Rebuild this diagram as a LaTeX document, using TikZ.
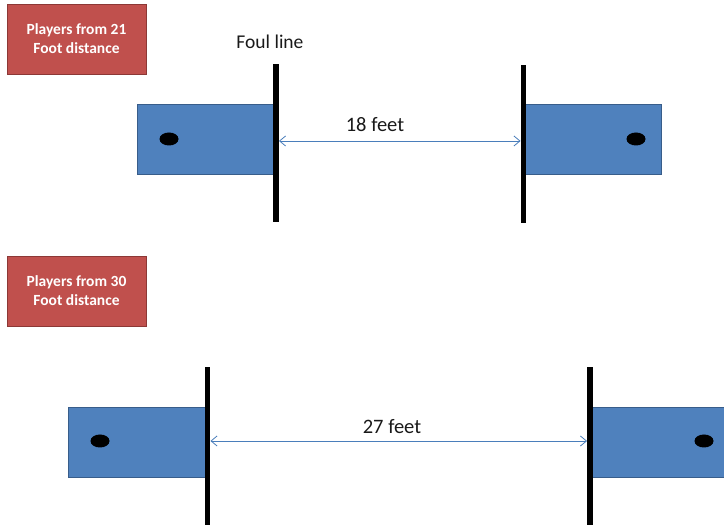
\documentclass[tikz,border=0pt]{standalone}
\usepackage{fontspec}
\setmainfont{Carlito}
\usetikzlibrary{arrows.meta,shapes.geometric}
\definecolor{boxred}{HTML}{C0504D}
\definecolor{boxredline}{HTML}{8C3836}
\definecolor{padblue}{HTML}{4F81BD}
\definecolor{padblueline}{HTML}{385D8A}
\definecolor{dimblue}{HTML}{4A7EBB}
\tikzset{
  labelbox/.style={draw=boxredline, line width=0.8pt, fill=boxred, text=white,
    minimum width=139pt, minimum height=70pt, inner sep=0pt, align=center,
    font=\fontsize{15.5}{19}\selectfont\bfseries},
  pad/.style={draw=padblueline, line width=0.8pt, fill=padblue, inner sep=0pt,
    minimum height=70pt},
  hole/.style={ellipse, fill=black, minimum width=19pt, minimum height=13pt, inner sep=0pt},
  foulbar/.style={fill=black, minimum width=5.5pt, inner sep=0pt, minimum height=158pt},
  dim/.style={draw=dimblue, line width=0.8pt, {Straight Barb[length=6pt,width=10pt]}-{Straight Barb[length=6pt,width=10pt]}},
  caption/.style={font=\fontsize{19.5}{23}\selectfont, text=black!90, inner sep=0pt},
  dimlabel/.style={font=\fontsize{20.5}{24}\selectfont, text=black!90, inner sep=0pt}
}
\begin{document}
\begin{tikzpicture}[x=1pt,y=-1pt]
\useasboundingbox (0,0) rectangle (724,529);
% top scenario
\node[labelbox] (red1) at (76.5,39) {Players from 21\\Foot distance};
\node[pad, minimum width=138pt, anchor=east] (padL1) at (276,139.5) {};
\node[pad, minimum width=137pt, anchor=west] (padR1) at (523.5,139.5) {};
\node[hole] (holeL1) at (169,139) {};
\node[hole] (holeR1) at (636,139) {};
\node[foulbar] (barL1) at (276,143.5) {};
\node[foulbar] (barR1) at (523.5,144) {};
\node[caption] (foul) at (270,42) {Foul line};
\coordinate (a1) at (barL1.east |- 0,141);
\coordinate (b1) at (barR1.west |- 0,141);
\draw[dim] (a1) -- (b1);
\node[dimlabel] (d1) at (375,125) {18 feet};
% bottom scenario
\node[labelbox] (red2) at (76.5,291) {Players from 30\\Foot distance};
\node[pad, minimum width=138.5pt, anchor=east] (padL2) at (207.5,442) {};
\node[pad, minimum width=140pt, anchor=west] (padR2) at (590,442) {};
\node[hole] (holeL2) at (100,441) {};
\node[hole] (holeR2) at (704,441) {};
\node[foulbar] (barL2) at (207.5,446) {};
\node[foulbar] (barR2) at (590,446) {};
\coordinate (a2) at (barL2.east |- 0,441);
\coordinate (b2) at (barR2.west |- 0,441);
\draw[dim] (a2) -- (b2);
\node[dimlabel] (d2) at (392,427) {27 feet};
\end{tikzpicture}
\end{document}
